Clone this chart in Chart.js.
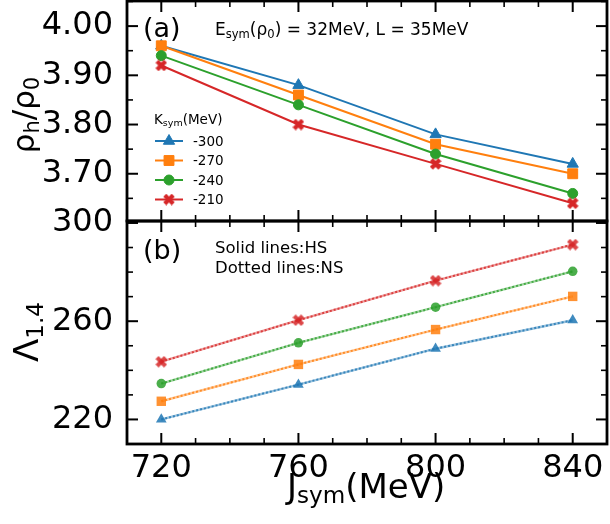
<!DOCTYPE html>
<html>
<head>
<meta charset="utf-8">
<script src="https://cdn.jsdelivr.net/npm/chart.js@4.4.1/dist/chart.umd.min.js"></script>
<style>
  html, body { margin: 0; padding: 0; background: #fff; }
  #wrap { position: relative; width: 610px; height: 524px; font-family: 'DejaVu Sans', sans-serif; color: #000; }
  canvas { position: absolute; left: 0; top: 0; }
  .txt { position: absolute; white-space: nowrap; line-height: 1; }
  .txt sub { font-size: 0.68em; vertical-align: -0.22em; }
  .rot { transform: translate(-50%, -50%) rotate(-90deg); }
</style>
</head>
<body>
<div id="wrap">
  <canvas id="top" width="610" height="524"></canvas>
  <canvas id="bot" width="610" height="524"></canvas>
  <div class="txt rot" style="left:25px; top:115px; font-size:31px;">ρ<sub>h</sub>/ρ<sub>0</sub></div>
  <div class="txt rot" style="left:28px; top:332px; font-size:34px;">Λ<sub>1.4</sub></div>
  <div class="txt" style="left:287px; top:469px; font-size:34px;">J<sub>sym</sub>(MeV)</div>
  <div class="txt" style="left:143px; top:14px; font-size:27px;">(a)</div>
  <div class="txt" style="left:215px; top:21px; font-size:17px;">E<sub>sym</sub>(ρ<sub>0</sub>) = 32MeV, L = 35MeV</div>
  <div class="txt" style="left:143px; top:236px; font-size:27px;">(b)</div>
  <div class="txt" style="left:215px; top:240px; font-size:16.5px;">Solid lines:HS</div>
  <div class="txt" style="left:215px; top:260px; font-size:16.5px;">Dotted lines:NS</div>
</div>
<script>
// J_sym values (MeV) and K_sym curves
const jsym = [720, 760, 800, 840];
const ksymLabels = ['-300', '-270', '-240', '-210'];

// panel (a): rho_h / rho_0
const rhoK300 = [3.96, 3.88, 3.78, 3.72];
const rhoK270 = [3.96, 3.86, 3.76, 3.70];
const rhoK240 = [3.94, 3.84, 3.74, 3.66];
const rhoK210 = [3.92, 3.80, 3.72, 3.64];

// panel (b): Lambda_1.4, HS (solid) and NS (dotted) lie on top of each other
const lamHsK300 = [220.0, 234.2, 248.8, 260.4];
const lamHsK270 = [227.4, 242.4, 256.6, 270.1];
const lamHsK240 = [234.6, 251.2, 265.7, 280.3];
const lamHsK210 = [243.5, 260.4, 276.5, 291.2];
const lamNsK300 = [220.0, 234.2, 248.8, 260.4];
const lamNsK270 = [227.4, 242.4, 256.6, 270.1];
const lamNsK240 = [234.6, 251.2, 265.7, 280.3];
const lamNsK210 = [243.5, 260.4, 276.5, 291.2];

const xTicks = [720, 760, 800, 840];
const rhoTicks = [3.70, 3.80, 3.90, 4.00];
const lamTicks = [220, 260, 300];

const colors = ['#1f77b4', '#ff7f0e', '#2ca02c', '#d62728'];
const FONT = "'DejaVu Sans', sans-serif";

// filled "X" marker like matplotlib's 'X'
function makeX(color, size) {
  const c = document.createElement('canvas');
  c.width = size; c.height = size;
  const g = c.getContext('2d');
  g.translate(size / 2, size / 2);
  g.fillStyle = color;
  const w = size * 0.36, l = size * 0.5;
  for (const a of [Math.PI / 4, -Math.PI / 4]) {
    g.save(); g.rotate(a); g.fillRect(-l, -w / 2, 2 * l, w); g.restore();
  }
  return c;
}

function markers(alpha) {
  return [
    { style: 'triangle', radius: 6.5 },
    { style: 'rect', radius: 7 },
    { style: 'circle', radius: 5 },
    { style: makeX(alpha < 1 ? 'rgba(214,39,40,' + alpha + ')' : colors[3], 12), radius: 6 },
  ];
}

const toXY = arr => arr.map((v, i) => ({ x: jsym[i], y: v }));
const rgba = (hex, a) => {
  const n = parseInt(hex.slice(1), 16);
  return `rgba(${n >> 16},${(n >> 8) & 255},${n & 255},${a})`;
};

// frame + inward ticks on all four sides (matplotlib style)
const frame = {
  id: 'frame',
  afterDatasetsDraw(chart, args, o) {
    const { ctx, chartArea: a, scales: { x, y } } = chart;
    ctx.save();
    ctx.strokeStyle = '#000';
    const seg = (x1, y1, x2, y2, w) => {
      ctx.lineWidth = w; ctx.beginPath(); ctx.moveTo(x1, y1); ctx.lineTo(x2, y2); ctx.stroke();
    };
    for (let v = 710; v <= 850; v += 10) {
      const major = xTicks.includes(v);
      const len = major ? 11 : 6, w = major ? 2 : 1.6;
      const px = x.getPixelForValue(v);
      seg(px, a.top, px, a.top + len, w);
      seg(px, a.bottom, px, a.bottom - len, w);
    }
    for (let i = 0; ; i++) {
      const v = o.minorStart + i * o.minorStep;
      if (v > y.max + 1e-9) break;
      if (v < y.min - 1e-9) continue;
      const major = o.majors.some(m => Math.abs(m - v) < 1e-6);
      const len = major ? 11 : 6, w = major ? 2 : 1.6;
      const py = y.getPixelForValue(v);
      seg(a.left, py, a.left + len, py, w);
      seg(a.right, py, a.right - len, py, w);
    }
    ctx.lineWidth = 2.8;
    ctx.strokeRect(a.left, a.top, a.right - a.left, a.bottom - a.top);
    ctx.restore();
  }
};

const legend = {
  id: 'klegend',
  afterDatasetsDraw(chart) {
    const { ctx } = chart;
    ctx.save();
    ctx.fillStyle = '#000';
    ctx.textBaseline = 'middle';
    ctx.font = '13.5px ' + FONT;
    ctx.fillText('K', 154, 120);
    let w = ctx.measureText('K').width;
    ctx.font = '9.5px ' + FONT;
    ctx.fillText('sym', 154 + w, 124);
    w += ctx.measureText('sym').width;
    ctx.font = '13.5px ' + FONT;
    ctx.fillText('(MeV)', 154 + w, 120);
    const ys = [141, 160.5, 180, 199.5];
    const mk = markers(1);
    chart.data.datasets.forEach((ds, i) => {
      ctx.strokeStyle = ds.borderColor; ctx.lineWidth = 2;
      ctx.beginPath(); ctx.moveTo(155, ys[i]); ctx.lineTo(183, ys[i]); ctx.stroke();
      ctx.fillStyle = ds.borderColor; ctx.strokeStyle = ds.borderColor; ctx.lineWidth = 1;
      Chart.helpers.drawPoint(ctx, { pointStyle: mk[i].style, radius: mk[i].radius, borderWidth: 1 }, 169, ys[i]);
      ctx.fillStyle = '#000';
      ctx.fillText(ksymLabels[i], 193, ys[i] + 1);
    });
    ctx.restore();
  }
};

const tickFont = { family: FONT, size: 32 };
// tiny lineHeight so the y labels do not push the chart area down
const yTickFont = { family: FONT, size: 32, lineHeight: 0.05 };
// invisible tick marks give the gap between labels and spine
const yGrid = { display: true, drawOnChartArea: false, drawTicks: true, tickLength: 14, color: 'rgba(0,0,0,0)' };

// ---- panel (a)
const mkTop = markers(1);
const topSets = [rhoK300, rhoK270, rhoK240, rhoK210].map((arr, i) => ({
  label: ksymLabels[i],
  data: toXY(arr),
  borderColor: colors[i],
  backgroundColor: colors[i],
  borderWidth: 2,
  pointStyle: mkTop[i].style,
  pointRadius: mkTop[i].radius,
  pointBorderWidth: 1,
  order: 3 - i,
}));

new Chart(document.getElementById('top'), {
  type: 'line',
  data: { datasets: topSets },
  options: {
    responsive: false, animation: false, events: [],
    layout: { autoPadding: false, padding: { left: 0, right: 3, top: 1, bottom: 303 } },
    plugins: { legend: { display: false }, tooltip: { enabled: false }, frame: { minorStart: 3.60, minorStep: 0.05, majors: rhoTicks } },
    scales: {
      x: { type: 'linear', min: 710, max: 850, display: false },
      y: {
        min: 3.604, max: 4.051,
        grid: yGrid, border: { display: false },
        afterBuildTicks: s => { s.ticks = rhoTicks.map(v => ({ value: v })); },
        afterFit: s => { s.width = 127; },
        ticks: { font: yTickFont, color: '#000', padding: 0, callback: v => v.toFixed(2) },
      },
    },
  },
  plugins: [frame, legend],
});

// ---- panel (b)
const mkBot = markers(0.85);
const botSets = [];
[lamHsK300, lamHsK270, lamHsK240, lamHsK210].forEach((arr, i) => {
  botSets.push({
    label: 'HS ' + ksymLabels[i],
    data: toXY(arr),
    borderColor: rgba(colors[i], 0.45),
    backgroundColor: rgba(colors[i], 0.85),
    borderWidth: 2.4,
    pointStyle: mkBot[i].style,
    pointRadius: mkBot[i].radius * 0.95,
    pointBorderWidth: 0,
    order: 10 - i,
  });
});
[lamNsK300, lamNsK270, lamNsK240, lamNsK210].forEach((arr, i) => {
  botSets.push({
    label: 'NS ' + ksymLabels[i],
    data: toXY(arr),
    borderColor: rgba(colors[i], 0.8),
    borderWidth: 2,
    borderDash: [2, 2],
    pointRadius: 0,
    order: 20 - i,
  });
});

new Chart(document.getElementById('bot'), {
  type: 'line',
  data: { datasets: botSets },
  options: {
    responsive: false, animation: false, events: [],
    layout: { autoPadding: false, padding: { left: 0, right: 3, top: 221, bottom: 0 } },
    plugins: { legend: { display: false }, tooltip: { enabled: false }, frame: { minorStart: 210, minorStep: 10, majors: lamTicks } },
    scales: {
      x: {
        type: 'linear', min: 710, max: 850,
        grid: { display: false }, border: { display: false },
        afterBuildTicks: s => { s.ticks = xTicks.map(v => ({ value: v })); },
        afterFit: s => { s.height = 80; },
        ticks: { font: tickFont, color: '#000', padding: -3, maxRotation: 0 },
      },
      y: {
        min: 210, max: 300.8,
        grid: yGrid, border: { display: false },
        afterBuildTicks: s => { s.ticks = lamTicks.map(v => ({ value: v })); },
        afterFit: s => { s.width = 127; },
        ticks: { font: yTickFont, color: '#000', padding: 0 },
      },
    },
  },
  plugins: [frame],
});
</script>
</body>
</html>
